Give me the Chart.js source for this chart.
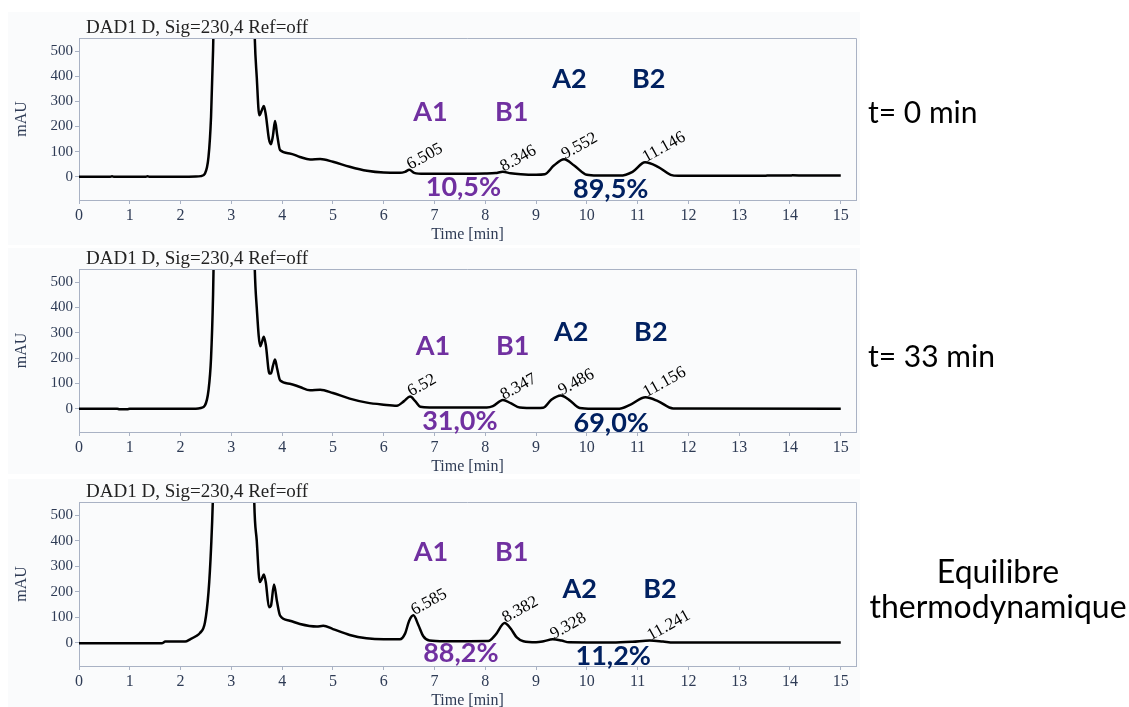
<!doctype html>
<html lang="fr">
<head>
<meta charset="utf-8">
<title>Chromatogrammes DAD1</title>
<script src="https://cdn.jsdelivr.net/npm/chart.js"></script>
<style>
  body { margin: 0; width: 1129px; height: 707px; overflow: hidden; position: relative; background: #fff; font-family: Lato, sans-serif; }
  .panel { position: absolute; left: 8px; width: 852px; background: #fafbfc; }
  .plot { position: absolute; left: 0; }
  .side { position: absolute; color: #000; font-size: 30px; line-height: 40px; white-space: nowrap; }
</style>
</head>
<body>
<div class="panel" style="top:12px;height:233px"></div>
<div class="panel" style="top:248px;height:226px"></div>
<div class="panel" style="top:479px;height:228px"></div>

<canvas id="c0" class="plot"></canvas>
<canvas id="c1" class="plot"></canvas>
<canvas id="c2" class="plot"></canvas>

<div class="side" style="left:868px;top:91px">t= 0 min</div>
<div class="side" style="left:868px;top:335px">t= 33 min</div>
<div class="side" style="left:860px;top:553px;width:276px;text-align:center;font-size:32px;line-height:35px">Equilibre<br>thermodynamique</div>

<script>
// traces [time (min), signal (mAU)]
const trace0 = [[0,0],[0.6,0],[0.65,2],[0.7,0],[1.3,0],[1.35,2],[1.4,0],[2.0,0],[2.3,1],[2.4,3],[2.48,13],[2.55,79],[2.6,238],[2.64,503],[2.68,900],[2.8,2500],[3.1,3000],[3.4,1200],[3.46,560],[3.5,397],[3.55,245],[3.6,265],[3.64,282],[3.68,245],[3.74,150],[3.78,130],[3.82,165],[3.86,222],[3.9,170],[3.96,106],[4.15,93],[4.35,79],[4.55,69],[4.75,71],[5.0,60],[5.33,40],[5.67,24],[6.0,17],[6.32,16],[6.42,20],[6.505,28],[6.6,16],[6.8,12],[7.5,12],[8.0,13],[8.2,15],[8.346,20],[8.5,14],[8.7,10],[9.0,8],[9.17,10],[9.35,45],[9.552,70],[9.75,45],[10.0,8],[10.2,5],[10.65,5],[10.9,20],[11.146,58],[11.4,40],[11.65,8],[11.8,4],[13.5,4],[13.55,5],[14.0,5],[14.05,6],[14.3,5],[15,5]];
const trace33 = [[0,0],[0.75,0],[0.8,-2],[0.95,-2],[1.0,0],[2.3,0],[2.4,3],[2.48,13],[2.55,73],[2.6,200],[2.64,450],[2.68,900],[2.8,2500],[3.1,3000],[3.4,1200],[3.46,560],[3.5,400],[3.57,247],[3.6,262],[3.64,284],[3.68,250],[3.75,139],[3.78,140],[3.82,170],[3.86,194],[3.9,160],[3.96,112],[4.15,99],[4.35,86],[4.55,73],[4.75,75],[5.0,62],[5.33,40],[5.67,24],[6.0,16],[6.26,12],[6.4,30],[6.52,48],[6.62,30],[6.72,8],[6.9,5],[8.03,5],[8.15,10],[8.347,34],[8.5,22],[8.68,5],[9.0,3],[9.14,4],[9.3,35],[9.486,52],[9.65,35],[9.86,3],[10.1,0],[10.64,0],[10.85,15],[11.156,45],[11.4,30],[11.7,1],[15,0]];
const traceEq = [[0,-3],[1.63,-3],[1.7,4],[2.09,4],[2.19,13],[2.3,25],[2.38,37],[2.48,79],[2.55,198],[2.6,370],[2.64,595],[2.8,2500],[3.1,3000],[3.4,1200],[3.45,560],[3.5,400],[3.56,238],[3.6,250],[3.64,267],[3.68,235],[3.74,139],[3.78,145],[3.84,228],[3.9,160],[3.96,106],[4.15,86],[4.35,73],[4.68,63],[4.81,66],[5.0,53],[5.33,30],[5.66,17],[6.0,13],[6.32,13],[6.42,35],[6.5,85],[6.585,107],[6.68,70],[6.78,25],[6.9,8],[7.2,5],[8.06,6],[8.2,30],[8.382,77],[8.5,55],[8.62,20],[8.75,5],[9.0,1],[9.15,5],[9.328,13],[9.5,8],[9.65,1],[10.5,0],[10.9,3],[11.241,8],[11.5,4],[11.7,0],[15,0]];

// integrated peaks: retention time label and apex height
const peakLabels0 = ['6.505', '8.346', '9.552', '11.146'];
const peakHeights0 = [28, 20, 70, 58];
const peakLabels33 = ['6.52', '8.347', '9.486', '11.156'];
const peakHeights33 = [48, 34, 52, 45];
const peakLabelsEq = ['6.585', '8.382', '9.328', '11.241'];
const peakHeightsEq = [107, 77, 13, 8];

const isomers = ['A1', 'B1', 'A2', 'B2'];
const ratio0 = ['10,5%', '89,5%'];
const ratio33 = ['31,0%', '69,0%'];
const ratioEq = ['88,2%', '11,2%'];

const xTicks = [0, 1, 2, 3, 4, 5, 6, 7, 8, 9, 10, 11, 12, 13, 14, 15];
const yTicks = [0, 100, 200, 300, 400, 500];

const PURPLE = '#7030a0';
const NAVY = '#002060';
const AXIS = '#a9b2c4';
const TICK = '#2e3b55';

const chromPlugin = {
  id: 'chrom',
  afterDraw(chart, args, o) {
    const { ctx, chartArea: a, scales: { x, y } } = chart;
    ctx.save();
    // top + right frame
    ctx.strokeStyle = AXIS;
    ctx.lineWidth = 1;
    ctx.beginPath();
    ctx.moveTo(a.left, Math.round(a.top) + 0.5);
    ctx.lineTo(Math.round(a.right) + 0.5, Math.round(a.top) + 0.5);
    ctx.lineTo(Math.round(a.right) + 0.5, a.bottom);
    ctx.stroke();

    ctx.fillStyle = '#222';
    ctx.font = '19px "Liberation Serif"';
    ctx.textAlign = 'left';
    ctx.textBaseline = 'alphabetic';
    ctx.fillText('DAD1 D, Sig=230,4 Ref=off', a.left + 7, a.top - 5);

    // retention times, rotated
    ctx.fillStyle = '#000';
    ctx.font = '17px "Liberation Serif"';
    o.peakLabels.forEach((lab, i) => {
      const px = x.getPixelForValue(parseFloat(lab));
      const py = y.getPixelForValue(o.peakHeights[i]);
      ctx.save();
      ctx.translate(px + 1, py);
      ctx.rotate(-29 * Math.PI / 180);
      ctx.fillText(lab, 0, 0);
      ctx.restore();
    });

    ctx.textAlign = 'center';
    ctx.textBaseline = 'middle';
    ctx.font = 'bold 27px Lato';
    isomers.forEach((name, i) => {
      ctx.fillStyle = i < 2 ? PURPLE : NAVY;
      ctx.fillText(name, x.getPixelForValue(o.isoX[i]), y.getPixelForValue(o.isoY[i]));
    });
    o.ratios.forEach((r, i) => {
      ctx.fillStyle = i === 0 ? PURPLE : NAVY;
      ctx.fillText(r, x.getPixelForValue(o.ratioX[i]), y.getPixelForValue(o.ratioY[i]));
    });
    ctx.restore();
  }
};

function makePanel(id, plotTop, plotBottom, trace, extra) {
  const canvas = document.getElementById(id);
  canvas.width = 870;
  canvas.height = plotBottom - plotTop + 38 + 44;
  canvas.style.top = (plotTop - 38) + 'px';

  const serif = { family: '"Liberation Serif", serif', size: 16 };
  new Chart(canvas, {
    type: 'line',
    data: {
      datasets: [{
        data: trace.map(p => ({ x: p[0], y: p[1] })),
        borderColor: '#000',
        borderWidth: 2.5,
        pointRadius: 0,
        cubicInterpolationMode: 'monotone'
      }]
    },
    options: {
      responsive: false,
      animation: false,
      layout: { padding: { top: 38, right: 14, left: 0, bottom: 0 } },
      plugins: { legend: { display: false }, tooltip: { enabled: false }, chrom: extra },
      scales: {
        x: {
          type: 'linear', min: 0, max: 15.3,
          afterBuildTicks: s => { s.ticks = xTicks.map(v => ({ value: v })); },
          afterFit: s => { s.height = 44; },
          ticks: { font: serif, color: TICK, maxRotation: 0, autoSkip: false, padding: 2 },
          grid: { drawOnChartArea: false, tickLength: 4, color: AXIS },
          border: { color: AXIS },
          title: { display: true, text: 'Time [min]', font: serif, color: TICK, padding: { top: 0, bottom: 0 } }
        },
        y: {
          type: 'linear', min: -92, max: 552,
          afterBuildTicks: s => { s.ticks = yTicks.map(v => ({ value: v })); },
          afterFit: s => { s.width = 79; },
          ticks: { font: { family: '"Liberation Serif", serif', size: 15 }, color: TICK, padding: 2 },
          grid: { drawOnChartArea: false, tickLength: 4, color: AXIS },
          border: { color: AXIS },
          title: { display: true, text: 'mAU', font: serif, color: TICK, padding: { top: 12, bottom: 0 } }
        }
      }
    },
    plugins: [chromPlugin]
  });
}

makePanel('c0', 38, 200, trace0, {
  peakLabels: peakLabels0, peakHeights: peakHeights0,
  isoX: [6.92, 8.52, 9.66, 11.22], isoY: [258, 258, 389, 389],
  ratios: ratio0, ratioX: [7.57, 10.47], ratioY: [-40, -48]
});
makePanel('c1', 269, 432, trace33, {
  peakLabels: peakLabels33, peakHeights: peakHeights33,
  isoX: [6.97, 8.54, 9.69, 11.26], isoY: [246, 246, 302, 302],
  ratios: ratio33, ratioX: [7.50, 10.48], ratioY: [-48, -56]
});
makePanel('c2', 502, 666, traceEq, {
  peakLabels: peakLabelsEq, peakHeights: peakHeightsEq,
  isoX: [6.93, 8.52, 9.86, 11.44], isoY: [353, 353, 210, 210],
  ratios: ratioEq, ratioX: [7.52, 10.52], ratioY: [-44, -52]
});
</script>
</body>
</html>
